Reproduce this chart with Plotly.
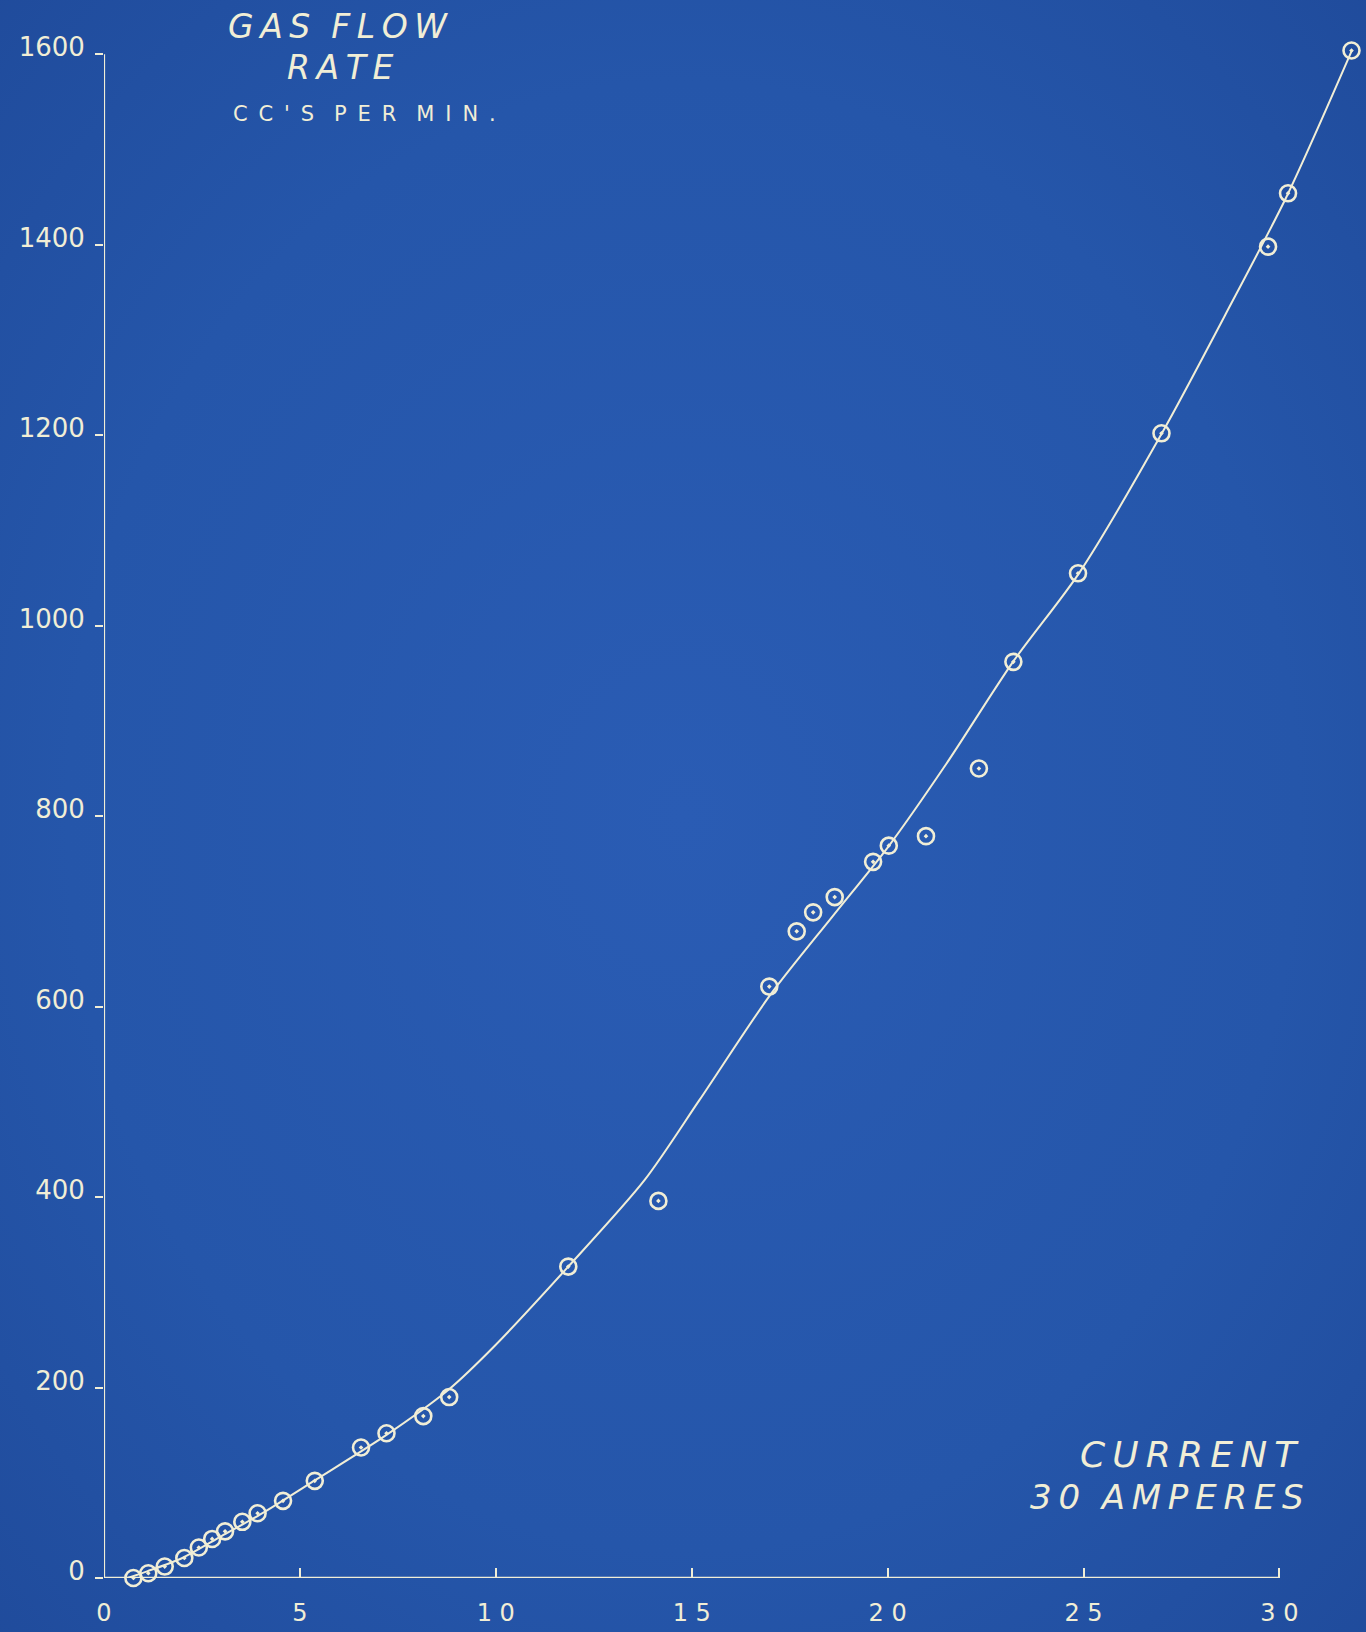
import base64
import plotly.graph_objects as go

# ---- data read from the blueprint ----
current = [0.75, 1.13, 1.55, 2.05, 2.42, 2.76, 3.09, 3.53, 3.92, 4.57, 5.38,
           6.56, 7.21, 8.15, 8.81, 11.85, 14.15, 16.98, 17.68, 18.10, 18.65,
           19.63, 20.03, 20.98, 22.33, 23.21, 24.86, 26.99, 29.71, 30.22, 31.84]
flow = [0, 5, 12, 21, 32, 41, 49, 59, 68, 81, 102,
        137, 152, 170, 190, 327, 396, 621, 679, 699, 715,
        752, 769, 779, 850, 962, 1055, 1202, 1398, 1454, 1604]

# hand-drawn smooth curve
curve_x = [0.6, 1.1, 2.0, 3.0, 4.0, 5.4, 7.2, 8.8, 10.0, 11.85, 13.8, 15.2,
           17.0, 18.6, 20.0, 21.5, 23.2, 24.9, 27.0, 28.6, 30.2, 31.85]
curve_y = [0, 7, 21, 44, 67, 103, 150, 198, 245, 327, 418, 502,
           612, 695, 767, 855, 962, 1056, 1202, 1325, 1452, 1604]

x_ticks = [0, 5, 10, 15, 20, 25, 30]
x_ticktext = ["0", "5", "1 0", "1 5", "2 0", "2 5", "3 0"]
y_ticks = [0, 200, 400, 600, 800, 1000, 1200, 1400, 1600]
y_ticktext = ["0", "200", "400", "600", "800", "1000", "1200", "1400", "1600"]

INK = "#f1eed6"
BG = "#2454a8"
W, H = 1366, 1632
ML, MB = 104, 54

# subtle blueprint paper gradient (background image)
svg = f"""<svg xmlns='http://www.w3.org/2000/svg' width='{W}' height='{H}'>
<defs><radialGradient id='g' cx='50%' cy='50%' r='75%'>
<stop offset='0%' stop-color='#2a5cb4'/>
<stop offset='60%' stop-color='#2556aa'/>
<stop offset='100%' stop-color='#1f4a9a'/>
</radialGradient></defs>
<rect width='{W}' height='{H}' fill='url(#g)'/></svg>"""
bg_src = "data:image/svg+xml;base64," + base64.b64encode(svg.encode()).decode()

fig = go.Figure()

fig.add_trace(go.Scatter(
    x=curve_x, y=curve_y, mode="lines",
    line=dict(color=INK, width=2, shape="spline", smoothing=0.8),
    hoverinfo="skip", showlegend=False, cliponaxis=False,
))
fig.add_trace(go.Scatter(
    x=current, y=flow, mode="markers",
    marker=dict(symbol="circle-open-dot", size=16, color=INK,
                line=dict(color=INK, width=2.6)),
    showlegend=False, cliponaxis=False,
))

# axis lines (hand-drawn, ending at 30 A and 1600 cc/min)
fig.add_shape(type="line", xref="x", yref="y", x0=-0.15, y0=0, x1=x_ticks[-1], y1=0,
              line=dict(color=INK, width=2.5), layer="below")
fig.add_shape(type="line", xref="x", yref="y", x0=0, y0=0, x1=0, y1=y_ticks[-1],
              line=dict(color=INK, width=2.2), layer="below")

fig.update_layout(
    width=W, height=H,
    margin=dict(l=ML, r=0, t=0, b=MB, pad=0),
    paper_bgcolor=BG, plot_bgcolor="rgba(0,0,0,0)",
    images=[dict(source=bg_src, xref="paper", yref="paper",
                 x=-ML / (W - ML), y=1, sizex=W / (W - ML), sizey=H / (H - MB),
                 xanchor="left", yanchor="top", sizing="stretch", layer="below")],
    xaxis=dict(range=[0, 32.21], showgrid=False, zeroline=False, showline=False,
               tickmode="array", tickvals=x_ticks, ticktext=x_ticktext,
               ticks="inside", ticklen=10, tickwidth=1.6, tickcolor=INK,
               tickfont=dict(family="DejaVu Sans", size=24, color=INK),
               ticklabelstandoff=18),
    yaxis=dict(range=[0, 1657], showgrid=False, zeroline=False, showline=False,
               tickmode="array", tickvals=y_ticks, ticktext=y_ticktext,
               ticks="outside", ticklen=8, tickwidth=1.6, tickcolor=INK,
               tickfont=dict(family="DejaVu Sans", size=26, color=INK),
               ticklabelstandoff=5, ticklabelshift=-7),
    font=dict(family="DejaVu Sans", color=INK),
)

def px_to_paper(px, py):
    return (px - ML) / (W - ML), (H - MB - py) / (H - MB)

def add_text(text, px, py, size, italic=True):
    xp, yp = px_to_paper(px, py)
    fig.add_annotation(
        text=text, x=xp, y=yp, xref="paper", yref="paper",
        xanchor="center", yanchor="middle", showarrow=False,
        font=dict(family="DejaVu Sans", size=size, color=INK,
                  style="italic" if italic else "normal"),
    )

TS = "\u2009"   # thin space for hand-lettered spacing
NB = "\u00a0"

def spaced(word, gap):
    return gap.join(list(word))

add_text(spaced("GAS", TS) + NB + NB + spaced("FLOW", TS), 338, 27, 33)
add_text(spaced("RATE", TS), 340, 67, 33)
add_text(spaced("CC'S", NB + TS) + NB * 3 + spaced("PER", NB + TS) + NB * 3
         + spaced("MIN.", NB + TS), 364, 114, 21, italic=False)
add_text(spaced("CURRENT", TS), 1189, 1454, 36)
add_text(spaced("30", TS) + NB + NB + spaced("AMPERES", TS), 1167, 1497, 34)

fig.write_html(
    "out.html",
    config={"displayModeBar": False},
    post_script="document.body.style.margin='0';"
                "document.body.style.background='#2454a8';",
)
